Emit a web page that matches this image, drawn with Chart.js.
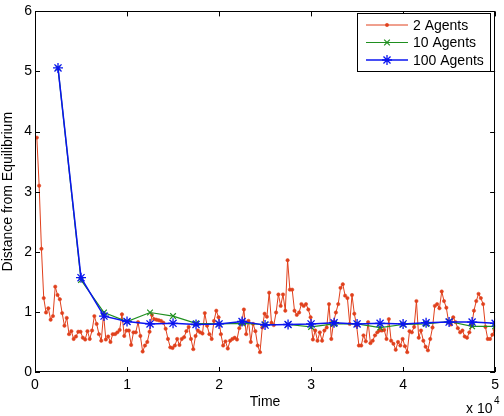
<!DOCTYPE html>
<html>
<head>
<meta charset="utf-8">
<script src="https://cdn.jsdelivr.net/npm/chart.js@4.4.1/dist/chart.umd.min.js"></script>
<style>
  html, body { margin: 0; padding: 0; background: #fff; }
  #wrap { width: 504px; height: 416px; }
</style>
</head>
<body>
<div id="wrap"><canvas id="myChart" width="504" height="416"></canvas></div>
<script>
// time grid of the 2-agent run (one sample every 250 steps)
const RED_START = 200;
const RED_STEP = 250;

const twoAgents = [
  3.90, 3.10, 2.05, 1.23, 0.99, 1.06, 0.87, 0.93, 1.42, 1.28,
  1.21, 0.98, 0.77, 0.90, 0.63, 0.68, 0.55, 0.59, 0.67, 0.67,
  0.57, 0.54, 0.68, 0.55, 0.69, 0.93, 0.80, 0.63, 0.52, 0.96,
  0.54, 0.59, 0.50, 0.63, 0.63, 0.66, 0.70, 0.96, 0.60, 0.69,
  0.69, 0.45, 0.66, 0.66, 0.83, 0.60, 0.34, 0.44, 0.50, 0.67,
  0.95, 0.88, 0.87, 0.86, 0.85, 0.82, 0.72, 0.55, 0.41, 0.40,
  0.44, 0.55, 0.45, 0.55, 0.58, 0.68, 0.75, 0.55, 0.38, 0.60,
  0.69, 0.66, 0.64, 0.98, 0.77, 0.63, 0.55, 0.85, 1.02, 0.91,
  0.63, 0.44, 0.51, 0.39, 0.52, 0.55, 0.57, 0.54, 0.73, 0.80,
  1.04, 0.63, 0.85, 0.50, 0.80, 0.68, 0.44, 0.33, 0.74, 0.97,
  0.92, 1.32, 0.82, 0.78, 0.99, 1.29, 1.10, 1.29, 1.02, 1.86,
  1.37, 1.37, 1.02, 0.95, 0.99, 1.13, 1.10, 1.13, 1.04, 0.91,
  0.54, 0.69, 0.52, 0.66, 0.52, 0.69, 0.74, 1.13, 0.55, 0.83,
  0.99, 1.13, 1.40, 1.46, 1.27, 1.23, 0.80, 1.28, 0.97, 0.77,
  0.44, 0.44, 0.61, 0.51, 0.83, 0.48, 0.52, 0.61, 0.66, 0.69,
  0.69, 0.70, 0.55, 0.88, 0.52, 0.47, 0.37, 0.50, 0.44, 0.55,
  0.43, 0.33, 0.68, 0.66, 0.75, 1.18, 0.57, 0.69, 0.52, 0.42,
  0.36, 0.55, 0.74, 1.10, 1.13, 1.06, 1.34, 1.18, 1.07, 0.83,
  0.79, 0.91, 0.83, 0.73, 0.66, 0.69, 0.59, 0.57, 0.66, 0.77,
  1.02, 1.18, 1.30, 1.23, 1.13, 0.75, 0.55, 0.55, 0.62, 0.70
];

const agentTimes = [2500, 5000, 7500, 10000, 12500, 15000, 17500, 20000, 22500, 25000,
                    27500, 30000, 32500, 35000, 37500, 40000, 42500, 45000, 47500, 50000];
const tenAgents = [5.06, 1.53, 0.99, 0.84, 0.99, 0.93, 0.81, 0.80, 0.81, 0.79,
                   0.79, 0.75, 0.80, 0.80, 0.74, 0.79, 0.80, 0.84, 0.76, 0.76];
const hundredAgents = [5.06, 1.57, 0.93, 0.84, 0.80, 0.81, 0.79, 0.80, 0.84, 0.78,
                       0.79, 0.80, 0.82, 0.80, 0.81, 0.80, 0.82, 0.83, 0.83, 0.81];

const seriesLabels = ['2 Agents', '10 Agents', '100 Agents'];
const xTicks = [0, 10000, 20000, 30000, 40000, 50000];
const xTickLabels = ['0', '1', '2', '3', '4', '5'];
const yTicks = [0, 1, 2, 3, 4, 5, 6];

const FONT = '"Liberation Sans", Arial, Helvetica, sans-serif';
Chart.defaults.font.family = FONT;
Chart.defaults.font.size = 14;
Chart.defaults.color = '#000';

const redPts = twoAgents.map((v, i) => ({ x: RED_START + i * RED_STEP, y: v }));
const greenPts = agentTimes.map((t, i) => ({ x: t, y: tenAgents[i] }));
const bluePts = agentTimes.map((t, i) => ({ x: t, y: hundredAgents[i] }));

// axes box with inward ticks on all four sides, like matlab
const boxPlugin = {
  id: 'matlabBox',
  afterDatasetsDraw(chart) {
    const { ctx, chartArea: a, scales } = chart;
    ctx.save();
    ctx.strokeStyle = '#000';
    ctx.lineWidth = 1;
    ctx.strokeRect(Math.round(a.left) + 0.5, Math.round(a.top) + 0.5,
                   Math.round(a.width) - 1, Math.round(a.height) - 1);
    ctx.beginPath();
    xTicks.forEach(v => {
      const px = Math.round(scales.x.getPixelForValue(v)) + 0.5;
      ctx.moveTo(px, a.bottom); ctx.lineTo(px, a.bottom - 5);
      ctx.moveTo(px, a.top); ctx.lineTo(px, a.top + 5);
    });
    yTicks.forEach(v => {
      const py = Math.round(scales.y.getPixelForValue(v)) + 0.5;
      ctx.moveTo(a.left, py); ctx.lineTo(a.left + 5, py);
      ctx.moveTo(a.right, py); ctx.lineTo(a.right - 5, py);
    });
    ctx.stroke();

    // x 10^4 multiplier
    ctx.fillStyle = '#000';
    ctx.textBaseline = 'alphabetic';
    ctx.textAlign = 'left';
    ctx.font = '14px ' + FONT;
    ctx.fillText('x 10', 466, 413);
    ctx.font = '10px ' + FONT;
    ctx.fillText('4', 494, 404);
    ctx.restore();
  },
  afterDraw(chart) {
    const { ctx } = chart;
    const bx = 357, by = 13, bw = 133, bh = 58;
    ctx.save();
    ctx.fillStyle = '#fff';
    ctx.fillRect(bx, by, bw, bh);
    ctx.strokeStyle = '#000';
    ctx.lineWidth = 1;
    ctx.strokeRect(bx + 0.5, by + 0.5, bw, bh);
    ctx.font = '14px ' + FONT;
    ctx.textBaseline = 'middle';
    chart.data.datasets.forEach((ds, i) => {
      const yy = by + 12 + i * 17.5;
      ctx.strokeStyle = ds.borderColor;
      ctx.fillStyle = ds.pointBackgroundColor;
      ctx.lineWidth = ds.borderWidth;
      ctx.beginPath();
      ctx.moveTo(366, yy); ctx.lineTo(408, yy);
      ctx.stroke();
      ctx.lineWidth = ds.pointBorderWidth;
      Chart.helpers.drawPoint(ctx, {
        pointStyle: ds.pointStyle, radius: ds.pointRadius,
        borderWidth: ds.pointBorderWidth, rotation: 0
      }, 387, yy);
      ctx.fillStyle = '#000';
      ctx.fillText(ds.label, 413, yy + 1);
    });
    ctx.restore();
  }
};

const ctx = document.getElementById('myChart').getContext('2d');

new Chart(ctx, {
  type: 'line',
  data: {
    datasets: [{
      label: seriesLabels[0],
      data: redPts,
      borderColor: '#e0401c',
      backgroundColor: '#e0401c',
      pointBackgroundColor: '#e0401c',
      pointBorderColor: '#e0401c',
      borderWidth: 1,
      pointStyle: 'circle',
      pointRadius: 1.7,
      pointBorderWidth: 0.5,
      order: 3
    }, {
      label: seriesLabels[1],
      data: greenPts,
      borderColor: '#1f8f1f',
      backgroundColor: '#1f8f1f',
      pointBackgroundColor: '#1f8f1f',
      pointBorderColor: '#1f8f1f',
      borderWidth: 1.2,
      pointStyle: 'crossRot',
      pointRadius: 4,
      pointBorderWidth: 1.2,
      order: 2
    }, {
      label: seriesLabels[2],
      data: bluePts,
      borderColor: '#0a14f0',
      backgroundColor: '#0a14f0',
      pointBackgroundColor: '#0a14f0',
      pointBorderColor: '#0a14f0',
      borderWidth: 1.5,
      pointStyle: 'star',
      pointRadius: 5,
      pointBorderWidth: 1.3,
      order: 1
    }]
  },
  options: {
    responsive: false,
    animation: false,
    parsing: true,
    layout: { padding: { left: 0, top: 6, right: 5, bottom: 0 } },
    plugins: {
      legend: { display: false },
      tooltip: { enabled: false }
    },
    elements: { line: { tension: 0, fill: false } },
    scales: {
      x: {
        type: 'linear',
        min: 0,
        max: 50000,
        afterBuildTicks(scale) { scale.ticks = xTicks.map(v => ({ value: v })); },
        afterFit(scale) { scale.height = 44; },
        ticks: {
          padding: 5,
          maxRotation: 0,
          autoSkip: false,
          callback(value) { return xTickLabels[xTicks.indexOf(value)]; }
        },
        grid: { display: false, drawTicks: false },
        border: { display: false },
        title: { display: true, text: 'Time', padding: { top: 0, bottom: 5 } }
      },
      y: {
        type: 'linear',
        min: 0,
        max: 6,
        afterBuildTicks(scale) { scale.ticks = yTicks.map(v => ({ value: v })); },
        afterFit(scale) { scale.width = 35; },
        ticks: { padding: 3, autoSkip: false },
        grid: { display: false, drawTicks: false },
        border: { display: false },
        title: { display: true, text: 'Distance from Equilibrium', padding: { top: 0, bottom: 0 } }
      }
    }
  },
  plugins: [boxPlugin]
});
</script>
</body>
</html>
